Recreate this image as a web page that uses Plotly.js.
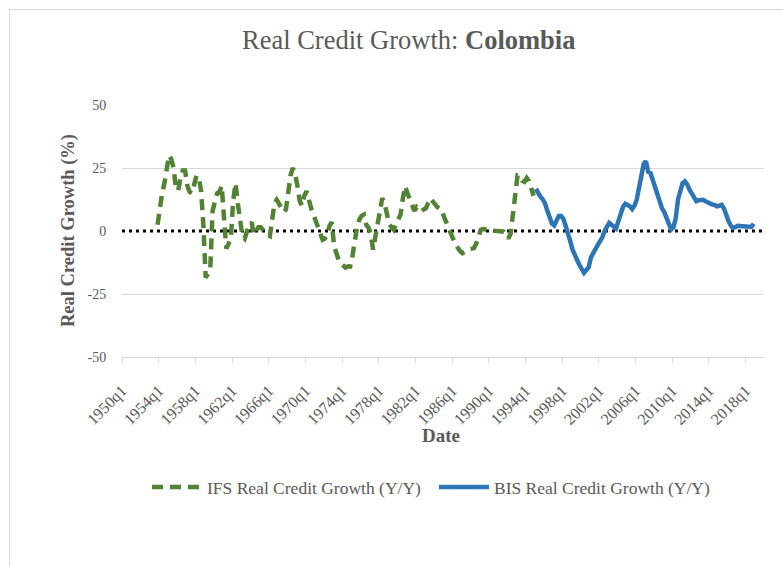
<!DOCTYPE html>
<html><head><meta charset="utf-8">
<script src="https://cdn.plot.ly/plotly-3.0.1.min.js"></script>
<style>
html,body{margin:0;padding:0;background:#fff;}
#chart{position:absolute;left:0;top:0;width:783px;height:566px;}
#frame{position:absolute;left:9px;top:9px;width:800px;height:600px;border:1px solid #d9d9d9;box-sizing:border-box;pointer-events:none;}
</style></head><body>
<div id="chart"></div><div id="frame"></div>
<script>
// ---- data ----
const tickLabels = ['1950q1','1954q1','1958q1','1962q1','1966q1','1970q1','1974q1','1978q1','1982q1','1986q1','1990q1','1994q1','1998q1','2002q1','2006q1','2010q1','2014q1','2018q1'];
const axisEnd = '2020q1';
const yTicks = [-50, -25, 0, 25, 50];

const ifsName = 'IFS Real Credit Growth (Y/Y)';
const ifsStart = '1953q4';
const ifsValues = [
  2.5, 9.8, 15, 19, 25, 30, 28.5, 25, 17, 16, 21, 24, 24, 18, 15.5, 15, 18.5, 22, 21, 16,
  2, -18.5, -17, -15, 8, 12.5, 15, 15.5, 18, 5, -7, -5, -2.5, 12, 19, 11, 3, -2, -3, 0,
  2.5, 3.5, -1.5, 0, 1.5, 1.5, 0.5, -0.8, -1.5, -2, 4.5, 11, 12.4, 11, 9, 7.5, 8.5, 15, 22, 25,
  22.5, 18, 12, 10, 14, 15.8, 12, 9, 6.5, 4, 1.2, -1.5, -3.5, -3, -1.5, 2, 3.5, -6, -9.5, -11.5,
  -13, -13.8, -14.5, -14.1, -14.1, -10, -3, 1.5, 4.5, 6, 6.5, 2.5, 1.3, -1, -7.4, -2.5, 3, 9.5, 13, 11,
  6.8, 3, 1.5, 0.5, 3, 5, 6.5, 13, 17.8, 15, 12.6, 10, 8, 9.5, 8.5, 7.8, 8.5, 9, 11, 13,
  11.8, 10.5, 9.5, 9, 8.5, 5.5, 3, 0.5, -1.5, -3.3, -5.5, -7, -8, -8.8, -8.5, -7.8, -7.2, -7, -6.8, -5,
  -2, 0.5, 0.8, 0.8, 0.5, 0.3, 0.2, 0.2, 0.2, 0.2, 0, -0.3, -1.2, -3, -1, 7.5, 16.5, 22, 21.8, 20,
  19.5, 21, 19.8, 17, 14
];

const bisName = 'BIS Real Credit Growth (Y/Y)';
const bisStart = '1995q1';
const bisValues = [
  16.7, 15, 13.6, 12.6, 11, 8, 5.5, 3, 2.2, 4.5, 6, 6, 4.8, 2, -0.5, -4, -7.4, -9, -11.5, -13.5,
  -15.6, -16.6, -15.5, -14.5, -10.5, -8.5, -7, -5.5, -4, -2.5, 0, 2, 3.2, 2.5, 1.5, 1, 4, 7.5, 9.5, 10.8,
  10.5, 9.8, 8.7, 10, 12.5, 18, 23.5, 26.5, 27.7, 23.5, 23, 20, 16.5, 13.5, 10.5, 9, 7.5, 5.5, 2.5, 0.6,
  1.5, 5, 12.5, 16.5, 19, 19.7, 18.5, 16.4, 14.8, 13, 11.8, 12.2, 12.4, 12.4, 11.8, 11.2, 11, 10.5, 10.3, 9.8,
  10, 10.4, 9, 6, 4, 2.2, 1.2, 1.5, 2.1, 2, 1.9, 2.1, 2, 1.8, 1.6, 2.9
];

// ---- helpers: quarter labels -> position on a numeric time axis ----
function quarterIndex(label){ return parseInt(label.slice(0,4),10)*4 + parseInt(label.slice(5),10) - 1; }
function quarterLabel(idx){ return Math.floor(idx/4) + 'q' + (idx%4 + 1); }
function boundary(label){ return quarterIndex(label)/4; }          // start of the quarter
function centre(label){ return (quarterIndex(label) + 0.5)/4; }    // middle of the quarter
function labelsFrom(start, n){ const s = quarterIndex(start); return Array.from({length:n}, (_,k) => quarterLabel(s+k)); }

const ifsDates = labelsFrom(ifsStart, ifsValues.length);
const bisDates = labelsFrom(bisStart, bisValues.length);

const font = 'Liberation Serif, Times New Roman, serif';
const grey = '#595959';
const xMin = boundary(tickLabels[0]), xMax = boundary(axisEnd);

const traces = [
  {x: ifsDates.map(centre), y: ifsValues, text: ifsDates, name: ifsName, type: 'scatter', mode: 'lines',
   line: {color: '#548235', width: 4.5, dash: '11px,7px'}, hovertemplate: '%{text}: %{y}<extra></extra>'},
  {x: bisDates.map(centre), y: bisValues, text: bisDates, name: bisName, type: 'scatter', mode: 'lines',
   line: {color: '#2E75B6', width: 4.5}, hovertemplate: '%{text}: %{y}<extra></extra>'}
];

const layout = {
  width: 783, height: 566,
  margin: {l: 122, r: 19, t: 105, b: 209},
  paper_bgcolor: '#fff', plot_bgcolor: '#fff',
  showlegend: true,
  title: {text: 'Real Credit Growth: <b>Colombia</b>', font: {family: font, size: 26.5, color: grey},
          x: 0.522, xref: 'container', xanchor: 'center', y: 1 - 40/566, yref: 'container', yanchor: 'middle'},
  xaxis: {range: [xMin, xMax], tickmode: 'array', tickvals: tickLabels.map(boundary), ticktext: tickLabels,
          tickangle: -45, ticks: 'outside', ticklen: 5, tickcolor: '#d9d9d9', tickwidth: 1,
          ticklabelstandoff: 12,
          showline: true, linecolor: '#d9d9d9', linewidth: 1, showgrid: false, zeroline: false,
          tickfont: {family: font, size: 16, color: grey}, fixedrange: true},
  yaxis: {range: [-50, 50], tickmode: 'array', tickvals: yTicks, ticktext: yTicks.map(String),
          showgrid: true, gridcolor: '#d9d9d9', gridwidth: 1, zeroline: false, showline: false,
          ticks: 'outside', ticklen: 12, tickcolor: 'rgba(0,0,0,0)',
          tickfont: {family: font, size: 14, color: grey}, fixedrange: true},
  shapes: [
    {type: 'line', xref: 'x', yref: 'y', x0: xMin, x1: xMax, y0: 0, y1: 0, layer: 'between',
     line: {color: '#ffffff', width: 4}},
    {type: 'line', xref: 'x', yref: 'y', x0: xMin, x1: xMax, y0: 0, y1: 0,
     layer: 'between', line: {color: '#000000', width: 3, dash: '3px,4px'}}
  ],
  annotations: [
    {text: '<b>Real Credit Growth (%)</b>', textangle: -90, xref: 'paper', yref: 'paper',
     x: (68-122)/642, y: 0.5, xanchor: 'center', yanchor: 'middle', showarrow: false,
     font: {family: font, size: 18.5, color: grey}},
    {text: '<b>Date</b>', xref: 'paper', yref: 'paper', x: (441-122)/642, y: (357-435)/252,
     xanchor: 'center', yanchor: 'middle', showarrow: false, font: {family: font, size: 19, color: grey}}
  ],
  legend: {orientation: 'h', x: (147-122)/642, xanchor: 'left', y: (357-487)/252, yanchor: 'middle',
           itemwidth: 50, entrywidth: 222, entrywidthmode: 'pixels',
           font: {family: font, size: 17.5, color: grey}, bgcolor: 'rgba(0,0,0,0)'},
  hovermode: 'closest'
};

Plotly.newPlot('chart', traces, layout, {displayModeBar: false});
</script>
</body></html>
